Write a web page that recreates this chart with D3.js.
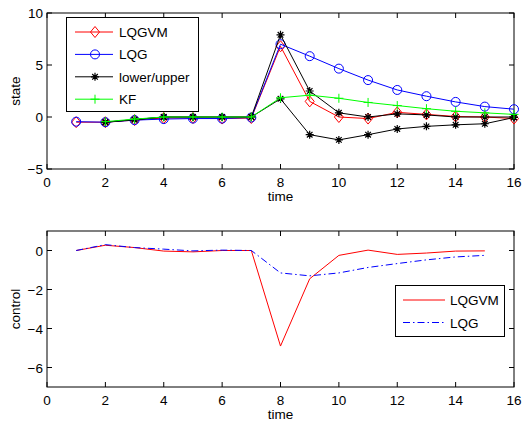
<html lang="en">
<head>
<meta charset="utf-8">
<script src="https://cdnjs.cloudflare.com/ajax/libs/d3/7.7.0/d3.min.js"></script>
<style>
html, body { margin: 0; padding: 0; background: #fff; }
svg { font-family: 'Liberation Sans', Arial, sans-serif; }
</style>
</head>
<body>
<svg width="531" height="421"></svg>
<script>
// top panel: state trajectories
const timeTop = [1, 2, 3, 4, 5, 6, 7, 8, 9, 10, 11, 12, 13, 14, 15, 16];
const lqgvmState = [-0.5, -0.5, -0.3, -0.1, -0.1, -0.15, -0.1, 6.8, 1.5, 0.0, -0.15, 0.45, 0.25, 0.05, 0.0, -0.15];
const lqgState = [-0.45, -0.5, -0.3, -0.2, -0.15, -0.15, -0.05, 7.0, 5.85, 4.65, 3.55, 2.6, 2.0, 1.45, 1.0, 0.75];
const timeBounds = [2, 3, 4, 5, 6, 7, 8, 9, 10, 11, 12, 13, 14, 15, 16];
const upperState = [-0.5, -0.25, 0.0, 0.0, 0.0, 0.0, 7.9, 2.5, 0.4, 0.0, 0.3, 0.2, 0.0, 0.0, 0.0];
const lowerState = [-0.5, -0.25, 0.0, 0.0, 0.0, 0.0, 1.75, -1.7, -2.2, -1.7, -1.15, -0.9, -0.75, -0.65, -0.05];
const kfState = [-0.45, -0.2, 0.0, 0.0, 0.0, 0.0, 1.85, 2.1, 1.8, 1.4, 1.1, 0.8, 0.55, 0.4, 0.25];

// bottom panel: control signals
const timeBottom = [1, 2, 3, 4, 5, 6, 7, 8, 9, 10, 11, 12, 13, 14, 15];
const lqgvmControl = [0, 0.27, 0.15, -0.03, -0.07, 0, 0, -4.9, -1.45, -0.25, 0.02, -0.2, -0.13, -0.03, -0.02];
const lqgControl = [0, 0.3, 0.15, 0.07, -0.02, 0.02, 0, -1.15, -1.3, -1.15, -0.87, -0.67, -0.48, -0.33, -0.25];

const xTicks = [0, 2, 4, 6, 8, 10, 12, 14, 16];
const stateTicks = [-5, 0, 5, 10];
const controlTicks = [-6, -4, -2, 0];

const svg = d3.select('svg');
const left = 47, right = 514;
const fs = 13.5;

const fmt = d => d3.format('d')(d);

function panel(top, bottom, yDomain, yTicks, yLabel) {
  const x = d3.scaleLinear().domain([0, 16]).range([left, right]);
  const y = d3.scaleLinear().domain(yDomain).range([bottom, top]);
  const g = svg.append('g');

  // box
  g.append('rect')
    .attr('x', left).attr('y', top)
    .attr('width', right - left).attr('height', bottom - top)
    .attr('fill', 'none').attr('stroke', '#000').attr('stroke-width', 1);

  // inside ticks on all four sides
  const tl = 5;
  xTicks.forEach(t => {
    g.append('line').attr('x1', x(t)).attr('x2', x(t)).attr('y1', bottom).attr('y2', bottom - tl).attr('stroke', '#000');
    g.append('line').attr('x1', x(t)).attr('x2', x(t)).attr('y1', top).attr('y2', top + tl).attr('stroke', '#000');
    g.append('text').attr('x', x(t)).attr('y', bottom + 18)
      .attr('text-anchor', 'middle').attr('font-size', fs).text(fmt(t));
  });
  yTicks.forEach(t => {
    g.append('line').attr('x1', left).attr('x2', left + tl).attr('y1', y(t)).attr('y2', y(t)).attr('stroke', '#000');
    g.append('line').attr('x1', right).attr('x2', right - tl).attr('y1', y(t)).attr('y2', y(t)).attr('stroke', '#000');
    g.append('text').attr('x', left - 4).attr('y', y(t) + 5)
      .attr('text-anchor', 'end').attr('font-size', fs).text(fmt(t));
  });

  g.append('text').attr('x', (left + right) / 2).attr('y', bottom + 32)
    .attr('text-anchor', 'middle').attr('font-size', fs).text('time');
  g.append('text')
    .attr('transform', `translate(20, ${(top + bottom) / 2}) rotate(-90)`)
    .attr('text-anchor', 'middle').attr('font-size', fs).text(yLabel);

  return { x, y, g };
}

function marker(g, type, cx, cy, color) {
  if (type === 'diamond') {
    g.append('path').attr('d', `M${cx},${cy - 5.5}L${cx + 4.5},${cy}L${cx},${cy + 5.5}L${cx - 4.5},${cy}Z`)
      .attr('fill', 'none').attr('stroke', color);
  } else if (type === 'circle') {
    g.append('circle').attr('cx', cx).attr('cy', cy).attr('r', 4.5)
      .attr('fill', 'none').attr('stroke', color);
  } else if (type === 'star') {
    const r = 4;
    const d = `M${cx - r},${cy}L${cx + r},${cy}M${cx},${cy - r}L${cx},${cy + r}` +
      `M${cx - r * 0.7},${cy - r * 0.7}L${cx + r * 0.7},${cy + r * 0.7}` +
      `M${cx - r * 0.7},${cy + r * 0.7}L${cx + r * 0.7},${cy - r * 0.7}`;
    g.append('path').attr('d', d).attr('stroke', color).attr('stroke-width', 1.2);
  } else if (type === 'plus') {
    const r = 4.5;
    g.append('path').attr('d', `M${cx - r},${cy}L${cx + r},${cy}M${cx},${cy - r}L${cx},${cy + r}`)
      .attr('stroke', color);
  }
}

function series(p, xs, ys, color, type, dash) {
  const line = d3.line().x((d, i) => p.x(xs[i])).y(d => p.y(d));
  p.g.append('path').datum(ys).attr('d', line)
    .attr('fill', 'none').attr('stroke', color).attr('stroke-width', 1)
    .attr('stroke-dasharray', dash || null);
  if (type) ys.forEach((v, i) => marker(p.g, type, p.x(xs[i]), p.y(v), color));
}

// ---- top panel
const p1 = panel(13, 169, [-5, 10], stateTicks, 'state');
series(p1, timeTop, lqgvmState, '#ff0000', 'diamond');
series(p1, timeTop, lqgState, '#0000ff', 'circle');
series(p1, timeBounds, upperState, '#000000', 'star');
series(p1, timeBounds, lowerState, '#000000', 'star');
series(p1, timeBounds, kfState, '#00ff00', 'plus');

// legend top
const lg1 = p1.g.append('g');
lg1.append('rect').attr('x', 66.5).attr('y', 17.5).attr('width', 132).attr('height', 94)
  .attr('fill', '#fff').attr('stroke', '#000');
const leg1 = [
  { name: 'LQGVM', color: '#ff0000', type: 'diamond' },
  { name: 'LQG', color: '#0000ff', type: 'circle' },
  { name: 'lower/upper', color: '#000000', type: 'star' },
  { name: 'KF', color: '#00ff00', type: 'plus' }
];
leg1.forEach((d, i) => {
  const yy = 32 + i * 22.4;
  lg1.append('line').attr('x1', 75).attr('x2', 113).attr('y1', yy).attr('y2', yy).attr('stroke', d.color);
  marker(lg1, d.type, 95, yy, d.color);
  lg1.append('text').attr('x', 119).attr('y', yy + 5).attr('font-size', fs).text(d.name);
});

// ---- bottom panel
const p2 = panel(231, 387, [-7, 1], controlTicks, 'control');
series(p2, timeBottom, lqgvmControl, '#ff0000', null);
series(p2, timeBottom, lqgControl, '#0000ff', null, '7 3 1.5 3');

const lg2 = p2.g.append('g');
lg2.append('rect').attr('x', 395.5).attr('y', 285.5).attr('width', 109).attr('height', 51)
  .attr('fill', '#fff').attr('stroke', '#000');
const leg2 = [
  { name: 'LQGVM', color: '#ff0000', dash: null },
  { name: 'LQG', color: '#0000ff', dash: '7 3 1.5 3' }
];
leg2.forEach((d, i) => {
  const yy = 300 + i * 22.5;
  lg2.append('line').attr('x1', 403).attr('x2', 445).attr('y1', yy).attr('y2', yy)
    .attr('stroke', d.color).attr('stroke-dasharray', d.dash);
  lg2.append('text').attr('x', 450).attr('y', yy + 5).attr('font-size', fs).text(d.name);
});
</script>
</body>
</html>
